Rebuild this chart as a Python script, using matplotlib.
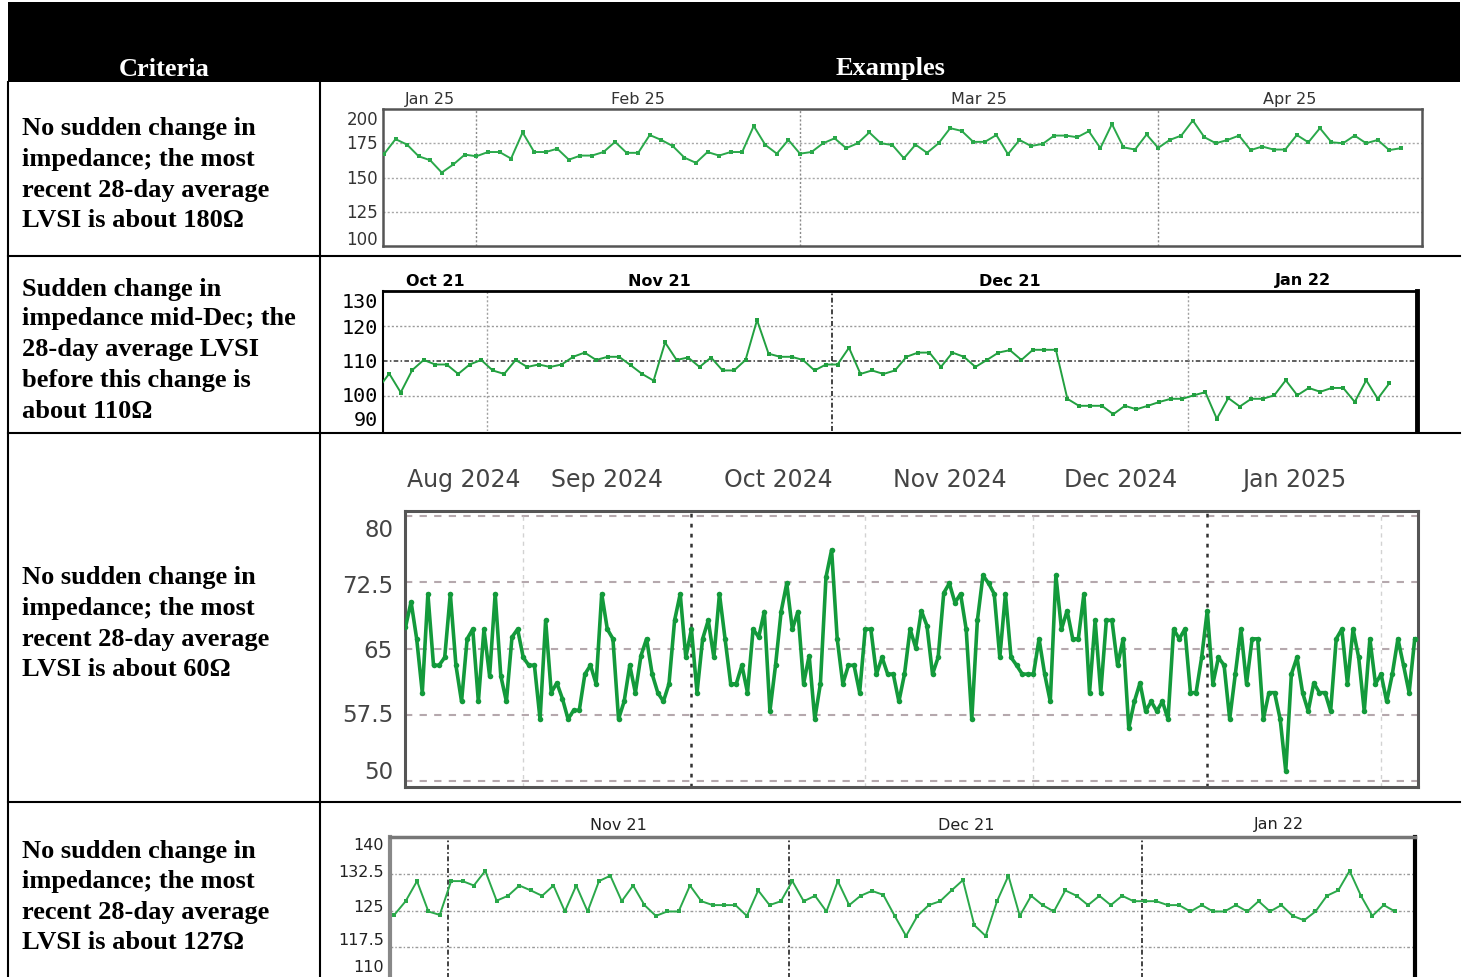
import matplotlib
matplotlib.use("Agg")
import matplotlib.pyplot as plt
import matplotlib.dates as mdates
from matplotlib.patches import Rectangle
import pandas as pd

W, H = 1466, 978

# ---------------- text ----------------
HEADER = ["Criteria", "Examples"]
ROW_TEXT = [
    ["No sudden change in", "impedance; the most", "recent 28-day average", "LVSI is about 180Ω"],
    ["Sudden change in", "impedance mid-Dec; the", "28-day average LVSI", "before this change is", "about 110Ω"],
    ["No sudden change in", "impedance; the most", "recent 28-day average", "LVSI is about 60Ω"],
    ["No sudden change in", "impedance; the most", "recent 28-day average", "LVSI is about 127Ω"],
]

# ---------------- chart 1 (daily, Jan 24 2025 -> Apr 22 2025) ----------------
C1_START = "2025-01-24 00:00"
C1_VALUES = [167, 178, 174, 165.5, 162.6, 153.6, 159.5, 166.7,
             165.5, 168.6, 168.6, 163.8, 182.9, 168.6, 168.6, 171, 163, 166, 166, 168.6, 176, 168,
             168, 181, 177.4, 172.9, 164.5, 160.7, 168.6, 166, 168.6, 168.6, 187.6, 173.8, 167.4, 177.4,
             167.4, 168.6, 175, 178.6, 171.4, 175, 182.9, 175, 173.7, 164, 174, 168, 175, 186, 184, 176,
             176, 181, 167, 177.4, 173, 174.5, 180.6, 180.6, 179.4, 183.8, 171.4, 189, 172, 170.4, 181.4,
             171.6, 177.4, 180.6, 191.6, 179.4, 175, 177.4, 180.6, 170, 172.6, 170.4, 170.4, 181, 175.7,
             186, 175.7, 175, 180.6, 175, 177.4, 170, 171.4]
C1_XLIM = ["2025-01-23 22:00", "2025-04-23 20:00"]
C1_YLIM = [100, 200]
C1_YTICKS = [100, 125, 150, 175, 200]
C1_YTICK_TEXT = ["100", "125", "150", "175", "200"]

# ---------------- chart 2 (daily, Oct 22 2021 -> Jan 18 2022) ----------------
C2_START = "2021-10-22 12:00"
C2_VALUES = [102, 106.4, 101, 107.4, 110.3, 109, 109, 106.3, 109, 110.3,
             107.3, 106.3, 110.3, 108.3, 109, 108.3, 109, 111.2, 112.4, 110.3, 111.2, 111.2, 108.8,
             106.3, 104.4, 115.3, 110.3, 111, 108.3, 111, 107.3, 107.3, 110.3, 121.7, 112.1, 111.2,
             111.2, 110.3, 107.3, 109,
             109, 113.8, 106.3, 107.3, 106.3, 107.3, 111.2, 112.4, 112.4, 108.3, 112.4, 111.2, 108.3,
             110.3, 112.4, 113.1, 110.3, 113.2, 113.2, 113.2, 99.2, 97.2, 97.2, 97.2, 94.8, 97.2, 96.2,
             97.2, 98.3, 99.2, 99.2,
             100.2, 101.1, 93.5, 99.4, 97, 99.2, 99.2, 100.2, 104.5, 100.2, 102.3, 101.2, 102.3, 102.3,
             98.3, 104.5, 99.2, 103.6]
C2_XLIM = ["2021-10-22 23:00", "2022-01-20 22:00"]
C2_YLIM = [90, 130]
C2_YTICKS = [90, 100, 110, 120, 130]
C2_YTICK_TEXT = ["90", "100", "110", "120", "130"]

# ---------------- chart 3 (daily, Aug 11 2024 -> Feb 7 2025) ----------------
C3_START = "2024-08-11 00:00"
C3_VALUES = [67.4, 70.3, 66.1, 60.0, 71.2, 63.1, 63.1, 64.0, 71.2, 63.1, 59.0, 66.1, 67.2, 59.0, 67.2,
             61.9, 71.2, 61.9, 59.0, 66.3, 67.2, 64.0, 63.1, 63.1, 57.0, 68.2, 60.0, 61.1, 59.3, 57.0,
             58.0, 58.0, 62.1, 63.1, 61.0, 71.2, 67.2, 66.1, 57.0, 59.0, 63.1, 60.0, 64.2, 66.1, 62.1,
             60.0, 59.0, 61.0, 68.2, 71.2, 64.0,
             67.2, 60.0, 66.1, 68.2, 64.0, 71.2, 66.1, 61.0, 61.0, 63.1, 60.0, 67.2, 66.3, 69.2, 57.9,
             63.1, 69.2, 72.4, 67.2, 69.2, 61.0, 64.2, 57.0, 61.0, 73.1, 76.2, 66.1, 61.0, 63.1, 63.1,
             60.0,
             67.2, 67.2, 62.1, 64.0, 62.1, 62.1, 59.0, 62.1, 67.2, 65.1,
             69.3, 67.6, 62.1, 64.0, 71.3, 72.4, 70.2, 71.2, 67.2, 57.0, 68.2, 73.3, 72.4, 71.2, 64.0,
             71.2, 64.0, 63.1, 62.1, 62.1,
             62.1, 66.1, 62.1, 59.0, 73.3, 67.2, 69.3, 66.1, 66.1, 71.2, 60.0, 68.2, 60.0, 68.2, 68.2,
             63.1, 66.1, 56.0, 59.0, 61.1, 57.9, 59.0, 57.9, 59.0, 57.0, 67.2, 66.1, 67.2, 60.0, 60.0,
             64.0,
             69.3, 61.0, 64.0, 63.1, 57.0, 62.1, 67.2, 61.0, 66.1, 66.1, 57.0, 60.0, 60.0, 57.0, 51.1,
             62.1, 64.0, 60.0, 57.9, 61.1, 60.0, 60.0, 57.9, 66.1, 67.2, 61.0, 67.2, 64.0, 57.9, 66.1,
             61.0,
             62.1, 59.0, 62.1, 66.1, 63.1, 60.0, 66.1]
C3_XLIM = ["2024-08-10 22:00", "2025-02-07 14:00"]
C3_YLIM = [49.3, 80.6]
C3_YTICKS = [50, 57.5, 65, 72.5, 80]
C3_YTICK_TEXT = ["50", "57.5", "65", "72.5", "80"]

# ---------------- chart 4 (daily, Oct 27 2021 -> Jan 23 2022) ----------------
C4_START = "2021-10-27 06:00"
C4_VALUES = [124.1, 126.9, 131, 124.8, 124.1,
             131, 131, 130.1, 133.1, 127, 128, 130.1, 129.1, 128, 130.1, 124.8, 130.1, 124.8, 131,
             132.1, 126.9, 130.1, 126.1, 123.9, 124.8, 124.8, 130.1, 126.9, 126.1, 126.1, 126.1, 123.9,
             129.1, 126.1, 126.9,
             131, 126.9, 128, 124.8, 131, 126.1, 128, 129, 128.2, 123.9, 119.8, 123.9, 126.1, 126.9,
             129.1, 131.2, 122, 119.8, 126.9, 132.1, 123.9, 128, 126.1, 124.8, 129.1, 128, 126.1, 128,
             126.1, 128, 126.9,
             126.9, 126.9, 126.1, 126.1, 124.8, 126.1, 124.8, 124.8, 126.1, 124.8, 126.9, 124.8, 126.1,
             123.9, 123, 124.8, 128, 129.1, 133.1, 128, 123.9, 126.1, 124.8]
C4_XLIM = ["2021-10-26 21:00", "2022-01-25 00:00"]
C4_YLIM = [110, 140]
C4_YTICKS = [110, 117.5, 125, 132.5, 140]
C4_YTICK_TEXT = ["110", "117.5", "125", "132.5", "140"]

# =====================================================================
fig = plt.figure(figsize=(W / 100, H / 100), dpi=100)
fig.patch.set_facecolor("white")

bg = fig.add_axes([0, 0, 1, 1], zorder=0)
bg.set_xlim(0, W)
bg.set_ylim(H, 0)
bg.axis("off")

SERIF = dict(family="Liberation Serif", weight="bold", fontsize=19)

# header
bg.add_patch(Rectangle((8, 3), 1452, 80, color="black", lw=0))
bg.text(164, 69, HEADER[0], color="white", ha="center", va="center", **SERIF)
bg.text(890, 69, HEADER[1], color="white", ha="center", va="center", **SERIF)

# table grid
LW = 1.5
bg.plot([8, 8], [83, H], color="black", lw=LW)
bg.plot([320, 320], [83, H], color="black", lw=LW)
for yy in [257, 434, 803]:
    bg.plot([8, 1460], [yy, yy], color="black", lw=LW)

# criteria texts
ROW_BASELINES = [[135, 166, 197, 227],
                 [296, 325, 356, 387, 418],
                 [584, 615, 646, 676],
                 [858, 888, 919, 949]]
for lines, ys in zip(ROW_TEXT, ROW_BASELINES):
    for s, yb in zip(lines, ys):
        bg.text(22, yb, s, ha="left", va="baseline", color="black", **SERIF)


def rect(x0, y0, x1, y1):
    return [x0 / W, 1 - y1 / H, (x1 - x0) / W, (y1 - y0) / H]


def dnum(t):
    return mdates.date2num(pd.Timestamp(t).to_pydatetime())


def plot_chart(box, start, values, xlim, ylim, yticks, ytick_text, ytick_dy, ylab_pad,
               ylab_kw, month_fmt, month_dy, month_kw, line_kw, hgrid, vline, spines):
    ax = fig.add_axes(rect(*box), zorder=2)
    ax.set_facecolor("white")
    dates = pd.date_range(start, periods=len(values), freq="D")
    ax.plot(dates.to_pydatetime(), values, zorder=3, clip_on=True, **line_kw)
    x0, x1 = pd.Timestamp(xlim[0]), pd.Timestamp(xlim[1])
    ax.set_xlim(dnum(x0), dnum(x1))
    ax.set_ylim(*ylim)
    ax.set_xticks([])
    ax.set_yticks([])
    for t in yticks:
        kw = hgrid(t)
        if kw:
            ax.axhline(t, zorder=1, **kw)
    for t, s, dy in zip(yticks, ytick_text, ytick_dy):
        ax.annotate(s, xy=(0, t), xycoords=("axes fraction", "data"),
                    xytext=(-ylab_pad, dy), textcoords="offset pixels",
                    ha="right", va="center", annotation_clip=False, **ylab_kw)
    span = x1 - x0
    months = pd.date_range(x0.to_period("M").to_timestamp(), x1, freq="MS")
    for m in months:
        if m > x0:
            ax.axvline(dnum(m), zorder=1, **vline(m))
        a = max(m, x0)
        b = min(m + pd.offsets.MonthBegin(1), x1)
        if (b - a) / span > 0.07:
            mid = a + (b - a) / 2
            ax.annotate(m.strftime(month_fmt), xy=(dnum(mid), 1),
                        xycoords=("data", "axes fraction"), xytext=(0, month_dy),
                        textcoords="offset pixels", ha="center", va="center",
                        annotation_clip=False, **month_kw)
    for side in ["top", "bottom", "left", "right"]:
        kw = spines.get(side)
        if kw is None:
            ax.spines[side].set_visible(False)
        else:
            ax.spines[side].set(**kw)
    return ax


# ---- chart 1 ----
plot_chart(
    (383, 110, 1422, 247), C1_START, C1_VALUES, C1_XLIM, C1_YLIM, C1_YTICKS, C1_YTICK_TEXT,
    [7, 0, 0, 0, -10], 5, dict(fontsize=12, color="#333333"),
    "%b %y", 11, dict(fontsize=11.5, color="#333333"),
    dict(color="#2aa84a", lw=1.4, marker="s", ms=3.2, mew=0),
    lambda t: dict(color="#a8a8a8", lw=1, ls=(0, (1.5, 1.5))) if 100 < t < 200 else None,
    lambda m: dict(color="#8a8a8a", lw=1, ls=(0, (1.5, 1.5))),
    {s: dict(color="#555555", linewidth=1.8) for s in ["top", "bottom", "left", "right"]},
)

# ---- chart 2 ----
plot_chart(
    (383, 292, 1417, 432), C2_START, C2_VALUES, C2_XLIM, C2_YLIM, C2_YTICKS, C2_YTICK_TEXT,
    [11, 0, 0, -2, -11], 5, dict(fontsize=14.5, color="black", family="DejaVu Sans Mono"),
    "%b %y", 11, dict(fontsize=11.5, color="black", weight="bold"),
    dict(color="#22a040", lw=1.4, marker="s", ms=3.4, mew=0),
    lambda t: (dict(color="#333333", lw=1.1, ls=(0, (3, 1.5, 1, 1.5))) if t == 110 else
               dict(color="#9a9a9a", lw=1, ls=(0, (1.5, 1.5))) if t in (100, 120) else None),
    lambda m: (dict(color="#222222", lw=1.2, ls=(0, (3, 1.5, 1, 1.5))) if m.month == 12 else
               dict(color="#a0a0a0", lw=1, ls=(0, (1.5, 1.5)))),
    {"top": dict(color="black", linewidth=2), "left": dict(color="black", linewidth=1.5),
     "right": dict(color="black", linewidth=3.5), "bottom": None},
)

# ---- chart 3 ----
plot_chart(
    (405, 512, 1418, 788), C3_START, C3_VALUES, C3_XLIM, C3_YLIM, C3_YTICKS, C3_YTICK_TEXT,
    [9, 0, -2, -3, -13], 12, dict(fontsize=16.5, color="#444444"),
    "%b %Y", 32, dict(fontsize=17, color="#444444"),
    dict(color="#139a3b", lw=2.6, marker="o", ms=4, mew=0),
    lambda t: dict(color="#b5a8ad", lw=1.5, ls=(0, (3.5, 3.5))),
    lambda m: (dict(color="#333333", lw=1.8, ls=(0, (1.5, 2.5))) if m.month in (10, 1) else
               dict(color="#d2d2d2", lw=1, ls=(0, (3, 3)))),
    {s: dict(color="#555555", linewidth=2.2) for s in ["top", "bottom", "left", "right"]},
)

# ---- chart 4 ----
plot_chart(
    (390, 838, 1415, 985), C4_START, C4_VALUES, C4_XLIM, C4_YLIM, C4_YTICKS, C4_YTICK_TEXT,
    [18, 8, 4, 2, -8], 6, dict(fontsize=11.5, color="#222222"),
    "%b %y", 13, dict(fontsize=11.5, color="#222222"),
    dict(color="#2aa84a", lw=1.4, marker="s", ms=3.2, mew=0),
    lambda t: dict(color="#9a9a9a", lw=1, ls=(0, (2, 1.5, 1, 1.5))) if 110 < t < 140 else None,
    lambda m: dict(color="#222222", lw=1.2, ls=(0, (3, 1.5, 1, 1.5))),
    {"top": dict(color="#777777", linewidth=2.5), "left": dict(color="#888888", linewidth=3),
     "right": dict(color="black", linewidth=3), "bottom": None},
)

fig.savefig("out.png", dpi=100, facecolor="white")
